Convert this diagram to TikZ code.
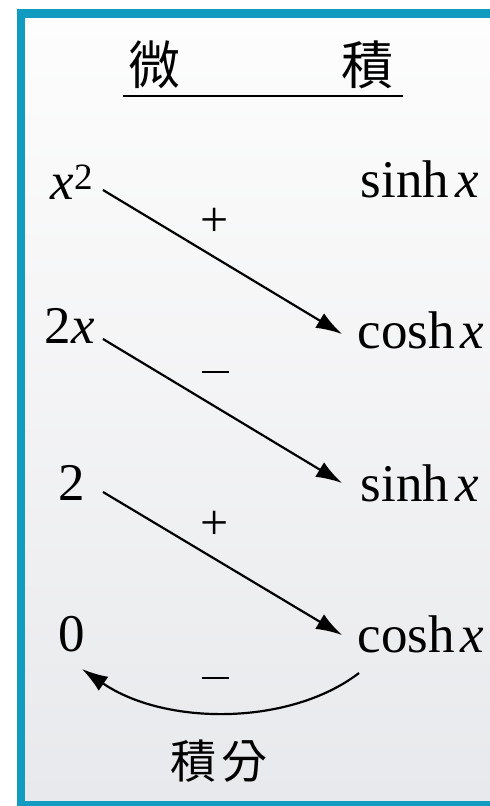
\documentclass[tikz,border=0pt]{standalone}
\usepackage{fontspec}
\setmainfont{Liberation Serif}
\newfontfamily\cjk{Noto Sans CJK TC}
\usetikzlibrary{arrows.meta}
\definecolor{frameblue}{RGB}{18,155,192}
\definecolor{bgtop}{RGB}{253,253,253}
\definecolor{bgbot}{RGB}{232,233,236}
\tikzset{
  txt/.style={anchor=base,inner sep=0pt,font=\fontsize{53}{60}\selectfont},
  cjktxt/.style={anchor=center,inner sep=0pt,font=\cjk\fontsize{52}{60}\selectfont},
  sign/.style={anchor=center,inner sep=0pt,font=\fontsize{50}{60}\selectfont},
  conn/.style={line width=2.2pt,-{Latex[length=26pt,width=17pt]}},
}
\begin{document}
\begin{tikzpicture}[x=1pt,y=-1pt]
\useasboundingbox (0,0) rectangle (490,806);
\fill[white] (0,0) rectangle (490,806);
% background and frame
\shade[top color=bgtop,bottom color=bgbot] (25,18) rectangle (490,801);
\fill[frameblue] (17,9) rectangle (490,18);
\fill[frameblue] (17,9) rectangle (25,806);
\fill[frameblue] (17,801) rectangle (490,806);
% header
\node[cjktxt] (wei) at (154,65) {微};
\node[cjktxt] (ji) at (367,65) {積};
\draw[line width=2pt] (123,96) -- (403,96);
% left column
\node[txt] (a1) at (72,199) {\textit{x}\textsuperscript{2}};
\node[txt] (a2) at (70,343) {2\textit{x}};
\node[txt] (a3) at (72,500) {2};
\node[txt] (a4) at (72,651) {0};
% right column
\node[txt] (b1) at (420,197) {sinh\hspace{0.12em}\textit{x}};
\node[txt] (b2) at (421,348) {cosh\hspace{0.12em}\textit{x}};
\node[txt] (b3) at (420,501) {sinh\hspace{0.12em}\textit{x}};
\node[txt] (b4) at (421,652) {cosh\hspace{0.12em}\textit{x}};
% connector end points
\coordinate (s1) at (103,190);
\coordinate (e1) at (342,334);
\coordinate (s2) at (103,339);
\coordinate (e2) at (342,483);
\coordinate (s3) at (103,492);
\coordinate (e3) at (342,635);
\coordinate (s4) at (359,673);
\coordinate (e4) at (82,669);
\draw[conn] (s1) -- (e1);
\draw[conn] (s2) -- (e2);
\draw[conn] (s3) -- (e3);
\draw[conn] (s4) .. controls (290,726) and (165,726) .. (e4);
% signs
\node[sign] (p1) at (215,222) {+};
\node[sign] (m1) at (215,372) {\rule[0pt]{27pt}{1.6pt}};
\node[sign] (p2) at (215,525) {+};
\node[sign] (m2) at (215,678) {\rule[0pt]{27pt}{1.6pt}};
% bottom label
\node[cjktxt,font=\cjk\fontsize{46}{56}\selectfont] (jf) at (219,761) {積\hspace{0.1em}分};
\end{tikzpicture}
\end{document}
